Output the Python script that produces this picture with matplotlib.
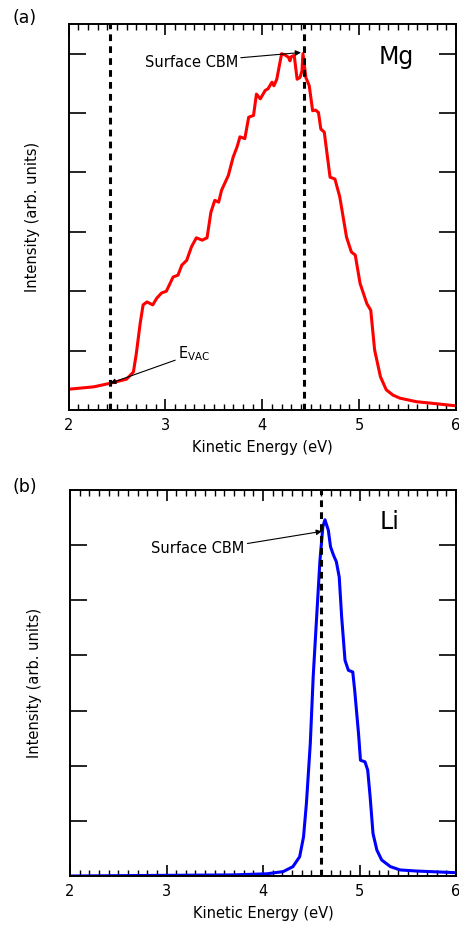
import numpy as np
import matplotlib
matplotlib.use("Agg")
import matplotlib.pyplot as plt
from matplotlib.ticker import MultipleLocator

plt.rcParams.update({
    "font.family": "DejaVu Sans",
    "font.size": 10,
    "axes.linewidth": 1.4,
})

# ---- Mg secondary-electron cutoff spectrum ----
mg_e = [2.00, 2.26, 2.43, 2.60, 2.67, 2.70, 2.74, 2.77, 2.81, 2.87, 2.91, 2.96,
        3.01, 3.08, 3.13, 3.17, 3.22, 3.27, 3.32, 3.38, 3.43, 3.47, 3.51, 3.55,
        3.58, 3.65, 3.70, 3.74, 3.77, 3.82, 3.86, 3.91, 3.94, 3.98, 4.03, 4.06,
        4.10, 4.12, 4.15, 4.20, 4.234, 4.27, 4.286, 4.30, 4.33, 4.36, 4.39, 4.41,
        4.42, 4.45, 4.485, 4.52, 4.55, 4.58, 4.605, 4.64, 4.70, 4.75, 4.80, 4.87,
        4.92, 4.96, 5.01, 5.08, 5.12, 5.16, 5.22, 5.28, 5.35, 5.42, 5.59, 5.77,
        6.00]
mg_i = [0.35, 0.39, 0.45, 0.52, 0.64, 0.95, 1.46, 1.77, 1.82, 1.77, 1.88, 1.97,
        2.00, 2.24, 2.27, 2.44, 2.52, 2.75, 2.90, 2.86, 2.90, 3.33, 3.53, 3.50,
        3.70, 3.95, 4.26, 4.43, 4.60, 4.57, 4.93, 4.96, 5.32, 5.24, 5.38, 5.41,
        5.52, 5.46, 5.57, 6.00, 5.98, 5.94, 5.88, 5.95, 5.97, 5.57, 5.60, 5.71,
        6.00, 5.60, 5.46, 5.04, 5.05, 5.01, 4.73, 4.68, 3.92, 3.89, 3.59, 2.91,
        2.66, 2.61, 2.13, 1.79, 1.68, 1.01, 0.56, 0.34, 0.25, 0.20, 0.14, 0.11,
        0.07]
mg_evac = 2.43
mg_cbm = 4.43

# ---- Li spectrum ----
li_e = [2.00, 3.69, 4.04, 4.21, 4.31, 4.38, 4.42, 4.45, 4.49, 4.52, 4.556, 4.59,
        4.62, 4.642, 4.677, 4.70, 4.73, 4.76, 4.79, 4.815, 4.85, 4.885, 4.93,
        4.95, 4.99, 5.01, 5.057, 5.085, 5.11, 5.14, 5.18, 5.23, 5.32, 5.42, 5.59,
        6.00]
li_i = [0.00, 0.02, 0.04, 0.08, 0.17, 0.35, 0.71, 1.32, 2.40, 3.61, 4.70, 5.72,
        6.33, 6.46, 6.27, 5.97, 5.82, 5.70, 5.42, 4.70, 3.91, 3.73, 3.70,
        3.37, 2.58, 2.10, 2.07, 1.92, 1.44, 0.77, 0.47, 0.29, 0.17, 0.11, 0.09,
        0.06]
li_cbm = 4.60

W, H = 459, 930
fig = plt.figure(figsize=(W / 100, H / 100), dpi=100)
ax1 = fig.add_axes([68.5 / W, 1 - 410 / H, (456 - 68.5) / W, (410 - 24) / H])
ax2 = fig.add_axes([70 / W, 1 - 876 / H, (456 - 70) / W, (876 - 490) / H])

DASH = (0, (2.2, 1.7))


def style(ax, ymax):
    ax.set_xlim(2, 6)
    ax.set_ylim(0, ymax)
    ax.xaxis.set_major_locator(MultipleLocator(1))
    ax.xaxis.set_minor_locator(MultipleLocator(0.1))
    ax.set_yticks(np.arange(1, 7))
    ax.set_yticklabels([])
    ax.tick_params(axis="x", which="major", direction="in", top=True,
                   length=8, width=1.2, labelsize=10.5, pad=6)
    ax.tick_params(axis="x", which="minor", direction="in", top=True,
                   length=4, width=1.0)
    ax.tick_params(axis="y", which="major", direction="in", right=True,
                   length=12, width=1.2)
    ax.set_xlabel("Kinetic Energy (eV)", fontsize=10.5, labelpad=5)
    ax.set_ylabel("Intensity (arb. units)", fontsize=10.5)


arrow = dict(arrowstyle="-|>", color="black", lw=0.8,
             mutation_scale=8, shrinkA=0, shrinkB=0)

# top panel: Mg
style(ax1, 6.5)
ax1.plot(mg_e, mg_i, color="#ff0000", lw=2.2, solid_joinstyle="round")
for xv in (mg_evac, mg_cbm):
    ax1.axvline(xv, color="black", lw=2.2, ls=DASH)
ax1.annotate("Surface CBM", xy=(4.40, 6.02), xytext=(3.75, 5.86),
             ha="right", va="center", fontsize=10.5, arrowprops=arrow)
ax1.annotate(r"E$_{\mathregular{VAC}}$", xy=(2.43, 0.45), xytext=(3.13, 0.95),
             ha="left", va="center", fontsize=10.5,
             arrowprops=dict(arrow, relpos=(0, 0.2)))
ax1.text(5.2, 5.94, "Mg", fontsize=17, ha="left", va="center")
ax1.yaxis.set_label_coords(-28 / 387.5, 0.5)
fig.text(13 / W, 1 - 18 / H, "(a)", fontsize=12.5, ha="left", va="center")

# bottom panel: Li
style(ax2, 7.0)
ax2.plot(li_e, li_i, color="#0000ff", lw=2.2, solid_joinstyle="round")
ax2.axvline(li_cbm, color="black", lw=2.2, ls=DASH)
ax2.annotate("Surface CBM", xy=(4.61, 6.25), xytext=(3.81, 5.94),
             ha="right", va="center", fontsize=10.5,
             arrowprops=dict(arrow, relpos=(1, 0.8)))
ax2.text(5.21, 6.42, "Li", fontsize=17, ha="left", va="center")
ax2.yaxis.set_label_coords(-28 / 386, 0.5)
fig.text(13 / W, 1 - 487 / H, "(b)", fontsize=12.5, ha="left", va="center")

fig.savefig("out.png", dpi=100, facecolor="white")
